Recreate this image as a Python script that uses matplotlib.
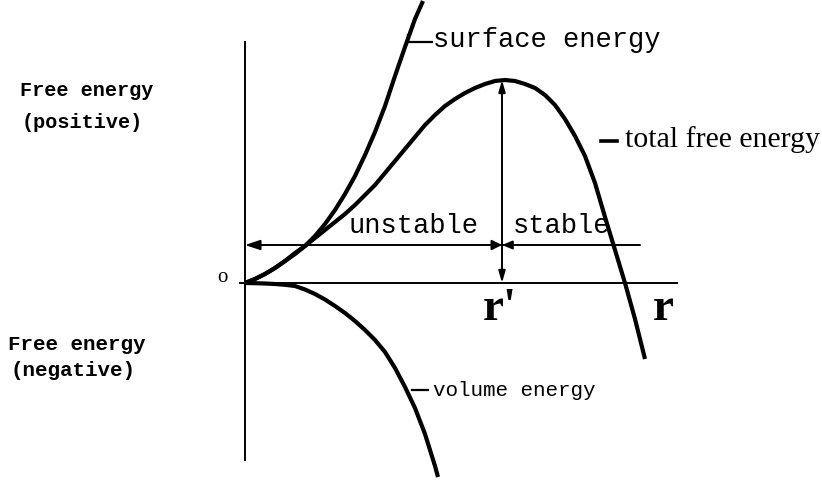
import matplotlib
matplotlib.use("Agg")
import matplotlib.pyplot as plt

# ---- data (r in arbitrary units, energy in arbitrary units) ----
surface_r = [0.0, 0.1, 0.2, 0.3, 0.4, 0.5, 0.6, 0.7, 0.8, 0.9, 1.0, 1.1, 1.2,
             1.3, 1.4, 1.5, 1.6, 1.7, 1.78]
surface_E = [0.0, 0.04, 0.09, 0.15, 0.22, 0.29, 0.37, 0.47, 0.59, 0.73, 0.89, 1.07,
             1.28, 1.51, 1.77, 2.07, 2.36, 2.64, 2.82]

volume_r = [0.0, 0.1, 0.2, 0.3, 0.4, 0.5, 0.6, 0.7, 0.8, 0.9, 1.0, 1.1, 1.2, 1.3,
            1.4, 1.5, 1.6, 1.7, 1.8, 1.9, 1.93]
volume_E = [0.0, -0.002, -0.005, -0.01, -0.018, -0.03, -0.065, -0.11, -0.165, -0.23,
            -0.30, -0.38, -0.47, -0.57, -0.69, -0.85, -1.04, -1.25, -1.51, -1.83, -1.94]

total_r = [0.0, 0.1, 0.2, 0.3, 0.4, 0.5, 0.6, 0.7, 0.8, 0.9, 1.0, 1.1, 1.2, 1.3,
           1.4, 1.5, 1.6, 1.7, 1.8, 1.9, 2.0, 2.1, 2.2, 2.3, 2.4, 2.5, 2.6, 2.7,
           2.8, 2.9, 3.0, 3.1, 3.2, 3.3, 3.4, 3.5, 3.6, 3.7, 3.8, 3.9, 4.0]
total_E = [0.0, 0.04, 0.09, 0.15, 0.22, 0.30, 0.37, 0.45, 0.53, 0.61, 0.69, 0.78,
           0.88, 0.98, 1.10, 1.22, 1.34, 1.46, 1.58, 1.68, 1.77, 1.84, 1.90, 1.95,
           1.99, 2.02, 2.03, 2.02, 1.99, 1.95, 1.88, 1.78, 1.64, 1.47, 1.27, 1.00,
           0.66, 0.33, 0.0, -0.36, -0.76]

r_crit = 2.57          # r' (position of the maximum)
E_crit = 2.03          # height of the barrier
E_level = 0.38         # the "unstable / stable" reference line

# ---- figure ----
fig = plt.figure(figsize=(8.22, 4.83), dpi=100)
ax = fig.add_axes([0, 0, 1, 1])
ax.set_xlim(-2.45, 5.77)
ax.set_ylim(-2.00, 2.83)
ax.axis("off")

ink = "black"
mono = ["Liberation Mono", "DejaVu Sans Mono"]
serif = ["Liberation Serif", "DejaVu Serif"]

# axes
ax.plot([0, 0], [-1.77, 2.41], color=ink, lw=1.4)
ax.plot([-0.05, 4.32], [0, 0], color=ink, lw=1.4)

# curves
for xs, ys in ((surface_r, surface_E), (volume_r, volume_E), (total_r, total_E)):
    ax.plot(xs, ys, color=ink, lw=3.0, solid_capstyle="butt", solid_joinstyle="round")

# reference line with arrow at the axis
ax.annotate("", xy=(0.0, E_level), xytext=(3.95, E_level),
            arrowprops=dict(arrowstyle="-|>,head_length=0.9,head_width=0.3",
                            lw=1.4, color=ink, shrinkA=0, shrinkB=0))
# vertical double arrow at r'
ax.annotate("", xy=(r_crit, 0.0), xytext=(r_crit, E_crit),
            arrowprops=dict(arrowstyle="<|-|>,head_length=0.7,head_width=0.2",
                            lw=1.4, color=ink, shrinkA=0, shrinkB=0))
# bow-tie arrows at the crossing
ax.annotate("", xy=(r_crit, E_level), xytext=(r_crit - 0.11, E_level),
            arrowprops=dict(arrowstyle="-|>,head_length=0.6,head_width=0.3",
                            lw=1.4, color=ink, shrinkA=0, shrinkB=0))
ax.annotate("", xy=(r_crit, E_level), xytext=(r_crit + 0.11, E_level),
            arrowprops=dict(arrowstyle="-|>,head_length=0.6,head_width=0.25",
                            lw=1.4, color=ink, shrinkA=0, shrinkB=0))

# leader lines for labels
ax.plot([1.63, 1.87], [2.41, 2.41], color=ink, lw=1.6)
ax.plot([1.63, 1.63], [2.41, 2.48], color=ink, lw=1.6)
ax.plot([1.67, 1.83], [-1.07, -1.07], color=ink, lw=1.6)
ax.plot([3.56, 3.72], [1.42, 1.42], color=ink, lw=2.6)

# texts
ax.text(-2.25, 1.93, "Free energy", family=mono, weight="bold", fontsize=14.5,
        ha="left", va="center")
ax.text(-2.23, 1.61, "(positive)", family=mono, weight="bold", fontsize=14.5,
        ha="left", va="center")
ax.text(-2.37, -0.61, "Free energy", family=mono, weight="bold", fontsize=15,
        ha="left", va="center")
ax.text(-2.35, -0.88, "(negative)", family=mono, weight="bold", fontsize=15,
        ha="left", va="center")

ax.text(-0.23, 0.05, "o", family=serif, fontsize=15, ha="center", va="center")

ax.text(1.88, 2.36, "surface energy", family=mono, fontsize=19.5,
        ha="left", va="baseline")
ax.text(1.03, 0.50, "unstable", family=mono, fontsize=19.5,
        ha="left", va="baseline")
ax.text(2.68, 0.50, "stable", family=mono, fontsize=19.5,
        ha="left", va="baseline")
ax.text(1.88, -1.13, "volume energy", family=mono, fontsize=15,
        ha="left", va="baseline")
ax.text(3.80, 1.36, "total free energy", family=serif, fontsize=21.5,
        ha="left", va="baseline")

ax.text(2.38, -0.37, "r'", family=serif, weight="bold", fontsize=34,
        ha="left", va="baseline")
ax.text(4.08, -0.37, "r", family=serif, weight="bold", fontsize=34,
        ha="left", va="baseline")

fig.savefig("out.png", dpi=100, facecolor="white")
